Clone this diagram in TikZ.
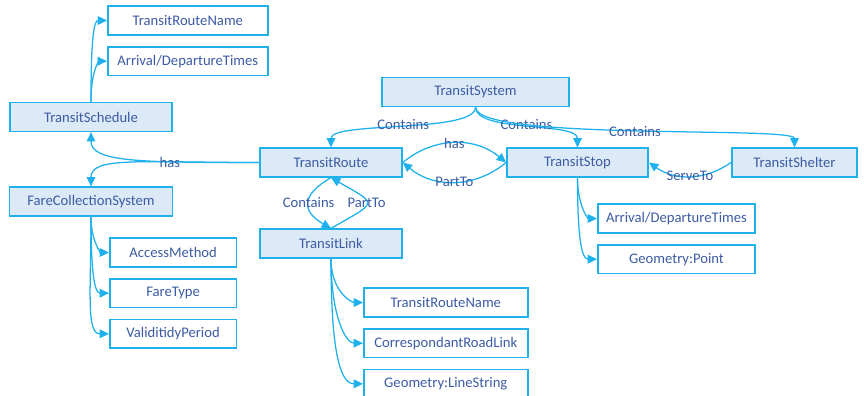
\documentclass[tikz,border=0pt]{standalone}
\usepackage{fontspec}
\setmainfont{Carlito}
\usetikzlibrary{arrows.meta,positioning}
\definecolor{skyline}{HTML}{1FB1EC}
\definecolor{boxfill}{HTML}{DCE9F7}
\definecolor{inkblue}{HTML}{3D5CA3}

\begin{document}
\begin{tikzpicture}[x=0.75pt, y=0.75pt,
	boxStyle/.style={draw=skyline, line width=1.2pt, text=inkblue, font=\fontsize{11}{13}\selectfont, minimum height=21.5pt, inner sep=0pt},
	classBox/.style={boxStyle, fill=boxfill},
	attrBox/.style={boxStyle, fill=white},
	linkStyle/.style={draw=skyline, line width=0.95pt, -{Triangle[length=7pt,width=6.5pt]}},
	labelStyle/.style={text=inkblue, font=\fontsize{11}{13}\selectfont, inner sep=1pt},
	attrLink/.style={linkStyle, out=-90, in=180, out looseness=1.6, in looseness=0.5},
	node distance=7.8pt]

	\useasboundingbox (0,0) rectangle (864,-396);

	% classes
	\node[classBox, minimum width=140pt] (system) at (475.5,-92) {TransitSystem};
	\node[classBox, minimum width=106.5pt] (route) at (331,-162.5) {TransitRoute};
	\node[classBox, minimum width=106pt] (stop) at (577.5,-162.5) {TransitStop};
	\node[classBox, minimum width=94pt] (shelter) at (794.5,-162.5) {TransitShelter};
	\node[classBox, minimum width=106.5pt] (link) at (331,-243.5) {TransitLink};
	\node[classBox, minimum width=121.5pt] (schedule) at (91,-117) {TransitSchedule};
	\node[classBox, minimum width=122pt] (fare) at (91,-201.5) {FareCollectionSystem};

	% attributes
	\begin{scope}[every node/.style={attrBox}]
		\node[minimum width=120pt, anchor=west] (s1) at (107,-20.5) {TransitRouteName};
		\node[minimum width=120pt, below=of s1] (s2) {Arrival/DepartureTimes};

		\node[minimum width=95pt, anchor=west] (f1) at (109,-252.5) {AccessMethod};
		\node[minimum width=95pt, below=of f1] (f2) {FareType};
		\node[minimum width=95pt, below=of f2] (f3) {ValiditidyPeriod};

		\node[minimum width=118pt, anchor=west] (t1) at (597,-218.5) {Arrival/DepartureTimes};
		\node[minimum width=118pt, below=of t1] (t2) {Geometry:Point};

		\node[minimum width=123pt, anchor=west] (k1) at (363,-302.5) {TransitRouteName};
		\node[minimum width=123pt, below=of k1] (k2) {CorrespondantRoadLink};
		\node[minimum width=123pt, below=of k2] (k3) {Geometry:LineString};
	\end{scope}

	\foreach \n in {s1,s2}
	\draw[linkStyle] (schedule.north) to[out=90, in=180, out looseness=2, in looseness=0.4] (\n.west);
	\foreach \n in {f1,f2,f3}
	\draw[attrLink] (fare.south) to (\n.west);
	\foreach \n in {t1,t2}
	\draw[attrLink] (stop.south) to (\n.west);
	\foreach \n in {k1,k2,k3}
	\draw[attrLink] (link.south) to (\n.west);

	% relations
	\draw[linkStyle] (system.south) to[out=-90, in=90, looseness=0.45] node[labelStyle, yshift=2pt]{Contains} (route.north);
	\draw[linkStyle] (system.south) to[out=-90, in=90, looseness=0.6] node[labelStyle, yshift=2pt]{Contains} (stop.north);
	\draw[linkStyle] (system.south) to[out=-90, in=90, out looseness=0.27, in looseness=0.17] node[labelStyle]{Contains} (shelter.north);

	\draw[linkStyle] (route.east) to[bend left=40] node[labelStyle]{has} (stop.west);
	\draw[linkStyle] (stop.west) to[bend left=40] node[labelStyle]{PartTo} (route.east);
	\draw[linkStyle] (shelter.west) to[bend left=35] node[labelStyle]{ServeTo} (stop.east);

	\draw[linkStyle] (route.south) to[out=210, in=150, looseness=1.74] node[labelStyle]{Contains} (link.north);
	\draw[linkStyle] (link.north) to[out=30, in=-30, looseness=2.77] node[labelStyle]{PartTo} (route.south);

	\draw[linkStyle] (route.west) .. controls +(-120,0) and +(0,-30) .. (schedule.south);
	\draw[linkStyle] (route.west) .. controls +(-120,0) and +(0,30) .. node[labelStyle, pos=0.3]{has} (fare.north);
\end{tikzpicture}
\end{document}
